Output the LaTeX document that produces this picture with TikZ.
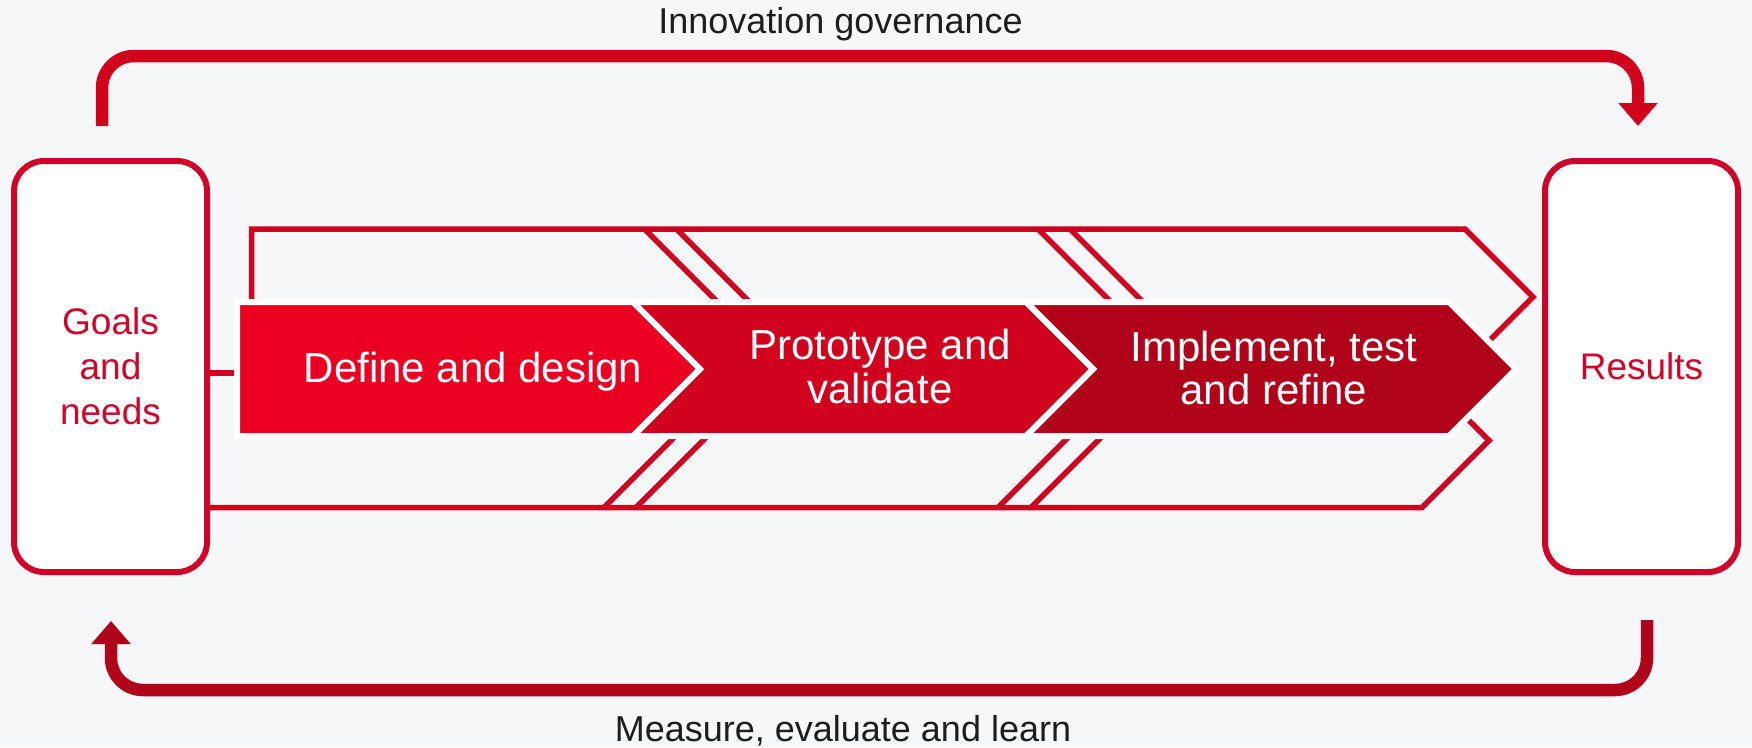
\documentclass[tikz,border=0pt]{standalone}
\usepackage{fontspec}
\setmainfont{Liberation Sans}
\usetikzlibrary{arrows.meta}
\definecolor{bgc}{HTML}{F6F7F9}
\definecolor{framered}{HTML}{D3011F}
\definecolor{boxred}{HTML}{D00429}
\definecolor{toparrow}{HTML}{D0021C}
\definecolor{botarrow}{HTML}{B0041A}
\definecolor{chA}{HTML}{EB0022}
\definecolor{chB}{HTML}{D0021E}
\definecolor{chC}{HTML}{B00319}
\definecolor{labeltext}{HTML}{1E1E1E}
\begin{document}
\begin{tikzpicture}[x=1pt,y=-1pt,
  framestyle/.style={draw=framered, line width=5.5pt, line join=miter},
  chevstyle/.style={draw=white, line width=6pt, line join=miter, miter limit=2},
  flowarrow/.style={line width=12.5pt, rounded corners=32pt, -{Triangle[length=23pt,width=38pt]}},
  endbox/.style={draw=boxred, line width=6pt, fill=white, rounded corners=30pt,
    minimum width=193pt, minimum height=411pt, inner sep=0pt, align=center,
    text=boxred, font=\fontsize{37}{45}\selectfont},
  chevtext/.style={text=white, font=\fontsize{42}{43.5}\selectfont, align=center, inner sep=0pt},
  sidetext/.style={text=labeltext, font=\fontsize{36}{43}\selectfont, inner sep=0pt, anchor=base}]
\useasboundingbox (0,0) rectangle (1752,747);
\fill[bgc] (0,0) rectangle (1752,747);

% end boxes
\node[endbox] (goals) at (110.5,366.5) {Goals\\and\\needs};
\node[endbox] (results) at (1641.5,366.5) {Results};

% outer frame
\coordinate (bl) at (0,507.5);
\coordinate (c1in) at (240,373);
\draw[framestyle] ([xshift=-3pt]goals.east |- c1in) -- (c1in);
\draw[framestyle] (251.5,306) -- (251.5,229) -- (1465,229) -- (1533,297) -- (1478,352);
\draw[framestyle] ([xshift=-3pt]goals.east |- bl) -- (1422,507.5) -- (1489,440.5) -- (1456,407.5);
% double lines at the chevron boundaries
\draw[framestyle] (644.5,229) -- (720,304.5);
\draw[framestyle] (676.5,229) -- (752,304.5);
\draw[framestyle] (1038,229) -- (1113.5,304.5);
\draw[framestyle] (1070,229) -- (1145.5,304.5);
\draw[framestyle] (604,507.5) -- (679,432.5);
\draw[framestyle] (636,507.5) -- (711,432.5);
\draw[framestyle] (998,507.5) -- (1073,432.5);
\draw[framestyle] (1031,507.5) -- (1106,432.5);

% chevrons
\draw[chevstyle, fill=chA] (237,302) -- (633,302) -- (700,369) -- (633,436) -- (237,436) -- cycle;
\draw[chevstyle, fill=chB] (633,302) -- (1026,302) -- (1093,369) -- (1026,436) -- (633,436) -- (700,369) -- cycle;
\draw[chevstyle, fill=chC] (1026,302) -- (1449,302) -- (1516,369) -- (1449,436) -- (1026,436) -- (1093,369) -- cycle;
\node[chevtext, anchor=base] (chevA) at (473,382) {Define and design};
\node[chevtext] (chevB) at (880,366.5) {Prototype and\\validate};
\node[chevtext] (chevC) at (1274,368) {Implement, test\\and refine};

% feedback arrows
\coordinate (ta) at (102,126);
\coordinate (tb) at (1638,126);
\draw[flowarrow, draw=toparrow] (ta) -- (102,56) -- (1638,56) -- (tb);
\coordinate (ba) at (1647,620);
\coordinate (bb) at (111,621);
\draw[flowarrow, draw=botarrow] (ba) -- (1647,690) -- (111,690) -- (bb);

\node[sidetext] (gov) at (840.5,33) {Innovation governance};
\node[sidetext] (mea) at (843,741) {Measure, evaluate and learn};
\end{tikzpicture}
\end{document}
